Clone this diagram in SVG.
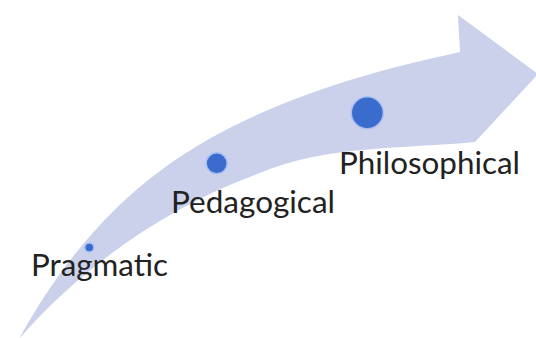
<svg xmlns="http://www.w3.org/2000/svg" width="536" height="338" viewBox="0 0 536 338">
  <style>
    .dot { fill: #3a6ccd; stroke: #a9bff0; stroke-width: 1.5; }
    .lbl { font-family: Lato, "Open Sans", "Liberation Sans", sans-serif; font-size: 30px; fill: #222222; }
  </style>
  <rect width="536" height="338" fill="#ffffff"/>
  <g id="arrow">
    <path fill="#cbd1ea" d="M19,339 C55,273 103,212 164,168 C250,106 356,74.5 460,52 L458,15 L538,74 L475,142 C403,149 326,145 260,173 C171,205 84,264 19,339 Z"/>
  </g>
  <g id="connectors"></g>
  <g id="pragmatic">
    <circle class="dot" cx="89.3" cy="247.5" r="4.5"/>
    <text class="lbl" x="31" y="276" textLength="137" lengthAdjust="spacingAndGlyphs">Pragmatic</text>
  </g>
  <g id="pedagogical">
    <circle class="dot" cx="216.7" cy="163.3" r="10.5"/>
    <text class="lbl" x="171" y="213" textLength="164" lengthAdjust="spacingAndGlyphs">Pedagogical</text>
  </g>
  <g id="philosophical">
    <circle class="dot" cx="367.3" cy="112.7" r="16"/>
    <text class="lbl" x="339" y="173.5" textLength="181" lengthAdjust="spacingAndGlyphs">Philosophical</text>
  </g>
</svg>
